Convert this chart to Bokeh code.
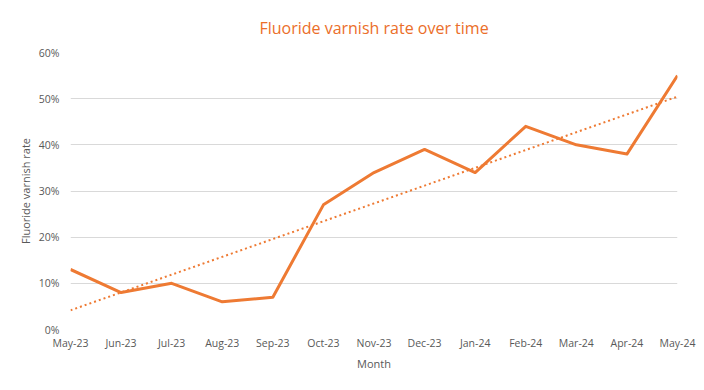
import numpy as np
from bokeh.plotting import figure
from bokeh.models import FixedTicker, NumeralTickFormatter, Title
from bokeh.embed import file_html
from bokeh.resources import INLINE

months = ["May-23", "Jun-23", "Jul-23", "Aug-23", "Sep-23", "Oct-23", "Nov-23",
          "Dec-23", "Jan-24", "Feb-24", "Mar-24", "Apr-24", "May-24"]
rates = [0.13, 0.08, 0.10, 0.06, 0.07, 0.27, 0.34, 0.39, 0.34, 0.44, 0.40, 0.38, 0.55]
y_ticks = [0.0, 0.1, 0.2, 0.3, 0.4, 0.5, 0.6]

x = np.arange(len(months))
coef = np.polyfit(x, rates, 1)
trend = np.polyval(coef, x)

FONT = "Open Sans"
ORANGE = "#EB6E29"
LINE = "#EE7A33"

p = figure(frame_width=607, frame_height=277, output_backend="svg", toolbar_location=None,
           x_range=(0, len(months) - 1), y_range=(0, 0.6),
           min_border_left=70, min_border_right=27, min_border_bottom=60, min_border_top=52)

t = Title(text="Fluoride varnish rate over time", align="center", text_color=ORANGE,
          text_font=FONT, text_font_size="16px", text_font_style="normal",
          standoff=28)
p.add_layout(t, "above")
p.title.visible = False

p.line(x, trend, line_color=LINE, line_width=2, line_dash="2 3")
p.line(x, rates, line_color=LINE, line_width=3, line_join="round")

p.xaxis.ticker = FixedTicker(ticks=list(x))
p.xaxis.major_label_overrides = {int(i): m for i, m in zip(x, months)}
p.yaxis.ticker = FixedTicker(ticks=y_ticks)
p.yaxis.formatter = NumeralTickFormatter(format="0%")
p.xaxis.axis_label = "Month"
p.yaxis.axis_label = "Fluoride varnish rate"

for ax in (p.xaxis, p.yaxis):
    ax.axis_line_color = None
    ax.major_tick_line_color = None
    ax.minor_tick_line_color = None
    ax.major_tick_in = 0
    ax.major_tick_out = 0
    ax.minor_tick_in = 0
    ax.minor_tick_out = 0
    ax.major_label_text_font = FONT
    ax.major_label_text_font_size = "10.5px"
    ax.major_label_text_color = "#595959"
    ax.axis_label_text_font = FONT
    ax.axis_label_text_font_size = "11px"
    ax.axis_label_text_font_style = "normal"
    ax.axis_label_text_color = "#595959"

p.xaxis.major_label_standoff = 6
p.yaxis.major_label_standoff = 11
p.xaxis.axis_label_standoff = 3
p.yaxis.axis_label_standoff = 3

p.xgrid.grid_line_color = None
p.ygrid.grid_line_color = "#D9D9D9"
p.ygrid.grid_line_width = 1
p.outline_line_color = None

open("out.html", "w").write(file_html(p, INLINE))
